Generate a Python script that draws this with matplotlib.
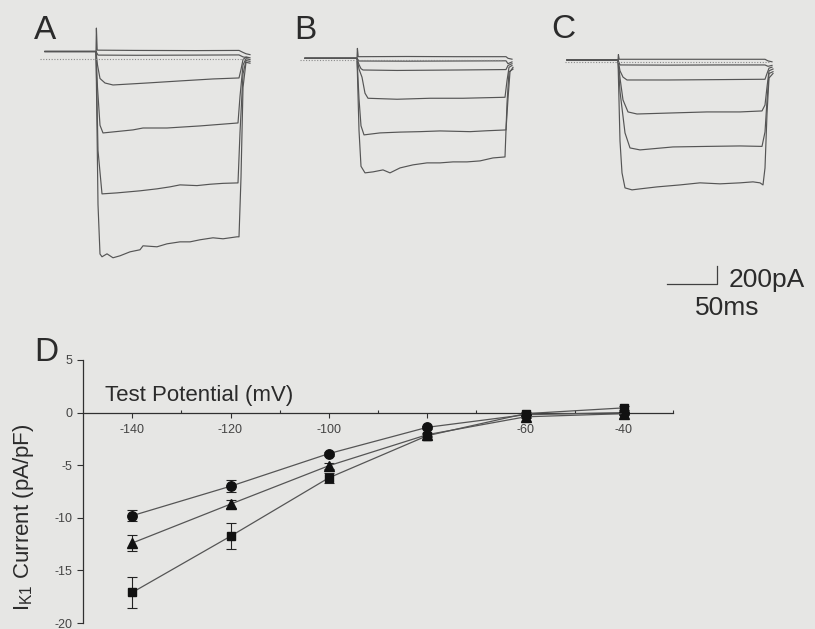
import matplotlib
matplotlib.use("Agg")
import matplotlib.pyplot as plt
from matplotlib.ticker import FixedLocator

plt.rcParams['font.family'] = ['Liberation Sans', 'DejaVu Sans']
plt.rcParams['mathtext.default'] = 'regular'
plt.rcParams['axes.unicode_minus'] = False

# ---------------- data: current traces (time ms from step onset, current pA) ----------------
A_t1_t = [-51, 0, 0.4, 1.2, 40, 100, 143, 147, 150, 154]
A_t1_i = [0, 0, 260, 15, 12, 10, 12, -10, -25, -35]
A_t2_t = [-51, 0, 2, 40, 100, 143, 147, 152]
A_t2_i = [0, 0, -40, -42, -40, -38, -60, -70]
A_t3_t = [-51, 0, 1.5, 4, 9, 17, 51, 84, 117, 143, 145, 147, 150, 154]
A_t3_i = [0, 0, -150, -300, -350, -372, -350, -327, -305, -294, -200, -90, -60, -70]
A_t4_t = [-51, 0, 1.5, 4, 7, 37, 47, 71, 104, 142, 144, 147, 150, 154]
A_t4_i = [0, 0, -400, -820, -905, -871, -850, -850, -827, -794, -500, -150, -80, -90]
A_t5_t = [-51, 0, 2, 6, 21, 44, 61, 74, 84, 101, 114, 127, 142, 144, 147, 150, 154]
A_t5_i = [0, 0, -1100, -1582, -1571, -1548, -1526, -1504, -1482, -1490, -1475, -1465, -1460, -900, -250, -100, -110]
A_t6_t = [-51, 0, 2, 4, 6, 11, 17, 24, 34, 44, 47, 61, 71, 84, 94, 104, 117, 127, 141, 143, 145, 147, 150, 154]
A_t6_i = [0, 0, -1700, -2250, -2281, -2248, -2292, -2270, -2226, -2203, -2159, -2170, -2137, -2115, -2115, -2092,
          -2070, -2081, -2059, -2059, -1400, -400, -120, -130]
A_ref_t = [-56, 150]
A_ref_i = [-87, -87]

B_t1_t = [-52, 0, 0.4, 1.2, 50, 100, 149, 151, 155]
B_t1_i = [0, 0, 110, 18, 20, 18, 18, 0, -10]
B_t2_t = [-52, 0, 2, 50, 100, 149, 151, 155]
B_t2_i = [0, 0, -30, -32, -30, -28, -60, -40]
B_t3_t = [-52, 0, 2, 4, 6, 40, 100, 149, 151, 155]
B_t3_i = [0, 0, -70, -115, -130, -135, -130, -125, -80, -60]
B_t4_t = [-52, 0, 2, 5, 8, 11, 40, 73, 106, 148, 150, 152, 155]
B_t4_i = [0, 0, -120, -210, -388, -444, -455, -444, -444, -433, -250, -100, -80]
B_t5_t = [-52, 0, 2, 4, 7, 23, 43, 63, 83, 113, 130, 149, 151, 153, 156]
B_t5_i = [0, 0, -450, -750, -851, -829, -820, -815, -807, -815, -805, -796, -450, -150, -100]
B_t6_t = [-52, 0, 2, 4, 8, 16, 26, 33, 43, 56, 70, 83, 96, 110, 123, 136, 148, 150, 152, 156]
B_t6_i = [0, 0, -800, -1200, -1273, -1262, -1240, -1273, -1218, -1184, -1162, -1162, -1151, -1151, -1140,
          -1107, -1096, -500, -150, -120]
B_ref_t = [-57, 145]
B_ref_i = [-15, -15]

C_t1_t = [-51, 0, 0.4, 1.2, 50, 100, 147, 150, 154]
C_t1_i = [0, 0, 60, 8, 8, 8, 8, -10, -20]
C_t2_t = [-51, 0, 2, 50, 100, 147, 150, 154]
C_t2_i = [0, 0, -55, -57, -55, -55, -70, -60]
C_t3_t = [-51, 0, 2, 5, 9, 50, 100, 147, 149, 151, 154]
C_t3_i = [0, 0, -120, -190, -222, -222, -218, -214, -150, -90, -80]
C_t4_t = [-51, 0, 2, 5, 10, 19, 55, 89, 122, 144, 147, 149, 151, 155]
C_t4_i = [0, 0, -200, -444, -577, -600, -588, -577, -577, -566, -500, -300, -120, -100]
C_t5_t = [-51, 0, 2, 7, 12, 22, 55, 89, 122, 144, 147, 149, 151, 155]
C_t5_i = [0, 0, -350, -810, -977, -999, -966, -960, -955, -960, -800, -450, -150, -130]
C_t6_t = [-51, 0, 2, 4, 7, 14, 22, 39, 62, 82, 102, 122, 135, 142, 145, 147, 149, 151, 155]
C_t6_i = [0, 0, -900, -1254, -1421, -1443, -1432, -1410, -1388, -1365, -1376, -1365, -1354, -1365, -1388,
          -1200, -600, -200, -150]
C_ref_t = [-53, 152]
C_ref_i = [-19, -19]

scale_ms = 50
scale_pA = 200

# ---------------- data: I-V relation (panel D) ----------------
V = [-140, -120, -100, -80, -60, -40]
circ_mean = [-9.8, -7.0, -3.9, -1.4, -0.2, 0.0]
circ_err = [0.55, 0.55, 0.2, 0.15, 0.1, 0.1]
tri_mean = [-12.4, -8.7, -5.05, -2.1, -0.4, -0.1]
tri_err = [0.75, 0.4, 0.3, 0.15, 0.1, 0.1]
sq_mean = [-17.1, -11.75, -6.2, -2.2, -0.1, 0.45]
sq_err = [1.5, 1.25, 0.5, 0.15, 0.2, 0.2]
x_ticks = [-140, -120, -100, -80, -60, -40]
x_tick_labels = ['-140', '-120', '-100', '', '-60', '-40']   # -80 label hidden under the markers
x_minor = [-130, -110, -90, -70, -50, -30]
y_ticks = [5, 0, -5, -10, -15, -20]

# ---------------- figure ----------------
W, H = 815, 629
BG = '#e6e6e4'
TXT = '#2b2b2b'
fig = plt.figure(figsize=(W / 100, H / 100), dpi=100, facecolor=BG)

SX = 1.0    # px per ms
SY = 0.09   # px per pA


def trace_axes(onset_px, base_px, left_off=-80, right_off=230, top_px=0, bottom_px=340):
    left = onset_px + left_off
    right = onset_px + right_off
    ax = fig.add_axes([left / W, 1 - bottom_px / H, (right - left) / W, (bottom_px - top_px) / H])
    ax.set_xlim(left_off / SX, right_off / SX)
    ax.set_ylim(-(bottom_px - base_px) / SY, (base_px - top_px) / SY)
    ax.axis('off')
    ax.patch.set_alpha(0)
    return ax


trace_color = '#555555'
panels = [
    (96, 51.5, [(A_t1_t, A_t1_i), (A_t2_t, A_t2_i), (A_t3_t, A_t3_i), (A_t4_t, A_t4_i), (A_t5_t, A_t5_i),
                (A_t6_t, A_t6_i)], (A_ref_t, A_ref_i)),
    (357, 58.3, [(B_t1_t, B_t1_i), (B_t2_t, B_t2_i), (B_t3_t, B_t3_i), (B_t4_t, B_t4_i), (B_t5_t, B_t5_i),
                 (B_t6_t, B_t6_i)], (B_ref_t, B_ref_i)),
    (618, 60.0, [(C_t1_t, C_t1_i), (C_t2_t, C_t2_i), (C_t3_t, C_t3_i), (C_t4_t, C_t4_i), (C_t5_t, C_t5_i),
                 (C_t6_t, C_t6_i)], (C_ref_t, C_ref_i)),
]
trace_axs = []
for onset, base, traces, ref in panels:
    ax = trace_axes(onset, base)
    for t, i in traces:
        ax.plot(t, i, color=trace_color, lw=0.85, solid_joinstyle='round')
    ax.plot(ref[0], ref[1], color='#8a8a8a', lw=0.8, ls=(0, (1, 1.5)))
    trace_axs.append(ax)

# scale bar in panel C
axC = trace_axs[2]
sb_t0 = 49
sb_i0 = -2490
axC.plot([sb_t0, sb_t0 + scale_ms, sb_t0 + scale_ms], [sb_i0, sb_i0, sb_i0 + scale_pA], color='#404040', lw=0.9)
axC.text(sb_t0 + scale_ms + 12, sb_i0 + scale_pA * 0.2, f'{scale_pA}pA', fontsize=19, color=TXT,
         ha='left', va='center')
axC.text(sb_t0 + 28, sb_i0 - 270, f'{scale_ms}ms', fontsize=19, color=TXT, ha='left', va='center')

# panel letters
for lab, xp, yp in [('A', 34, 39), ('B', 294, 39), ('C', 551, 38), ('D', 34, 361)]:
    fig.text(xp / W, 1 - yp / H, lab, fontsize=24, color=TXT, ha='left', va='baseline')

# ---------------- panel D ----------------
axD = fig.add_axes([83 / W, 1 - 623 / H, (673 - 83) / W, (623 - 360) / H])
axD.patch.set_alpha(0)
axD.set_xlim(-150, -30)
axD.set_ylim(-20, 5)
for s in ['top', 'right']:
    axD.spines[s].set_visible(False)
axD.spines['bottom'].set_position(('data', 0))
for s in ['bottom', 'left']:
    axD.spines[s].set_color('#303030')
    axD.spines[s].set_linewidth(0.9)

line_c = '#555555'
for mean, err, mk, ms in [(circ_mean, circ_err, 'o', 6.8), (tri_mean, tri_err, '^', 7.2), (sq_mean, sq_err, 's', 6.3)]:
    axD.errorbar(V, mean, yerr=err, fmt='-', color=line_c, lw=0.9, marker=mk, markersize=ms,
                 mfc='#111111', mec='#111111', ecolor='#222222', elinewidth=0.8, capsize=3.5, capthick=0.8,
                 zorder=3)

axD.xaxis.set_major_locator(FixedLocator(x_ticks))
axD.xaxis.set_minor_locator(FixedLocator(x_minor))
axD.yaxis.set_major_locator(FixedLocator(y_ticks))
axD.tick_params(axis='x', which='major', direction='out', length=3.5, width=0.8, pad=5, labelsize=9,
                colors='#303030', labelcolor='#444444')
axD.tick_params(axis='x', which='minor', direction='in', length=2.5, width=0.8, colors='#303030')
axD.tick_params(axis='y', which='major', direction='out', length=4.5, width=0.8, pad=3, labelsize=9,
                colors='#303030', labelcolor='#444444')
axD.set_xticklabels(x_tick_labels)
axD.set_yticklabels([str(v) for v in y_ticks])

fig.text(105 / W, 1 - 401 / H, 'Test Potential (mV)', fontsize=16, color=TXT, ha='left', va='baseline')
fig.text(24 / W, 1 - 517 / H, r'I$_{K1}$ Current (pA/pF)', fontsize=16, color=TXT, rotation=90,
         ha='center', va='center')

fig.savefig('out.png', dpi=100, facecolor=BG)
